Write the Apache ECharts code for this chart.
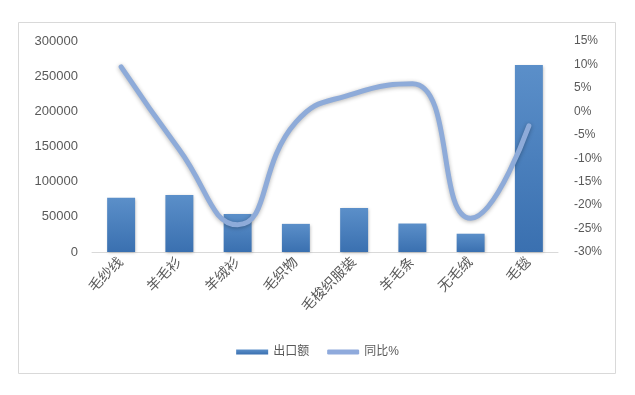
<!DOCTYPE html>
<html><head><meta charset="utf-8">
<script src="https://cdn.jsdelivr.net/npm/echarts@6/dist/echarts.min.js"></script>
<style>html,body{margin:0;padding:0;background:#fff}#c{width:635px;height:395px}</style>
</head><body><div id="c"></div>
<script>
var categories = ['毛纱线','羊毛衫','羊绒衫','毛织物','毛梭织服装','羊毛条','无毛绒','毛毯'];
var exportValues = [77000, 81000, 54000, 40000, 62500, 40500, 26000, 266000];
var yoyValues = [9.5, -8.2, -24.2, -2.3, 3.8, 5.9, -22.8, -3.1];
var leftTicks = [0, 50000, 100000, 150000, 200000, 250000, 300000];
var rightTicks = [-30, -25, -20, -15, -10, -5, 0, 5, 10, 15];

var font = 'Liberation Sans, "Noto Sans CJK SC", sans-serif';
var chart = echarts.init(document.getElementById('c'));
chart.setOption({
  animation: false,
  graphic: [{type:'rect', shape:{x:18.5,y:22.5,width:597,height:351}, style:{fill:'none', stroke:'#d9d9d9', lineWidth:1}, z:-1}],
  grid: {left: 92, right: 77, top: 41, bottom: 143},
  legend: {
    bottom: 32, left: 'center', itemGap: 18, itemWidth: 32, itemHeight: 5,
    textStyle: {color:'#595959', fontSize: 12, fontFamily: font},
    data: [{name:'出口额', icon:'rect'}, {name:'同比%', icon:'roundRect', itemStyle:{color:'#8FAADC'}}]
  },
  xAxis: {
    type:'category', data: categories,
    axisLine:{lineStyle:{color:'#d9d9d9'}}, axisTick:{show:false},
    axisLabel:{rotate:45, color:'#595959', fontSize:14, fontFamily:font, interval:0, margin:8}
  },
  yAxis: [{
    type:'value', min: leftTicks[0], max: leftTicks[leftTicks.length-1], interval: 50000,
    splitLine:{show:false}, axisLine:{show:false}, axisTick:{show:false},
    axisLabel:{color:'#595959', fontSize:13, fontFamily:font, margin:14, formatter:function(v){return String(v);}}
  },{
    type:'value', min: rightTicks[0], max: rightTicks[rightTicks.length-1], interval: 5,
    splitLine:{show:false}, axisLine:{show:false}, axisTick:{show:false},
    axisLabel:{color:'#595959', fontSize:12, fontFamily:font, margin:16, formatter:'{value}%'}
  }],
  series: [{
    name:'出口额', type:'bar', data: exportValues, barWidth: '48%',
    itemStyle:{color: new echarts.graphic.LinearGradient(0,0,0,1,[{offset:0,color:'#5B8FC9'},{offset:1,color:'#3A70B0'}]),
      shadowColor:'rgba(0,0,0,0.25)', shadowBlur:3, shadowOffsetX:1, shadowOffsetY:1}
  },{
    name:'同比%', type:'line', yAxisIndex:1, data: yoyValues, smooth: 0.5,
    symbol:'none',
    lineStyle:{color:'#8EABD9', width:5, cap:'round', shadowColor:'rgba(0,0,0,0.3)', shadowBlur:4, shadowOffsetY:1},
    itemStyle:{color:'#8EABD9'}
  }]
});
</script></body></html>
